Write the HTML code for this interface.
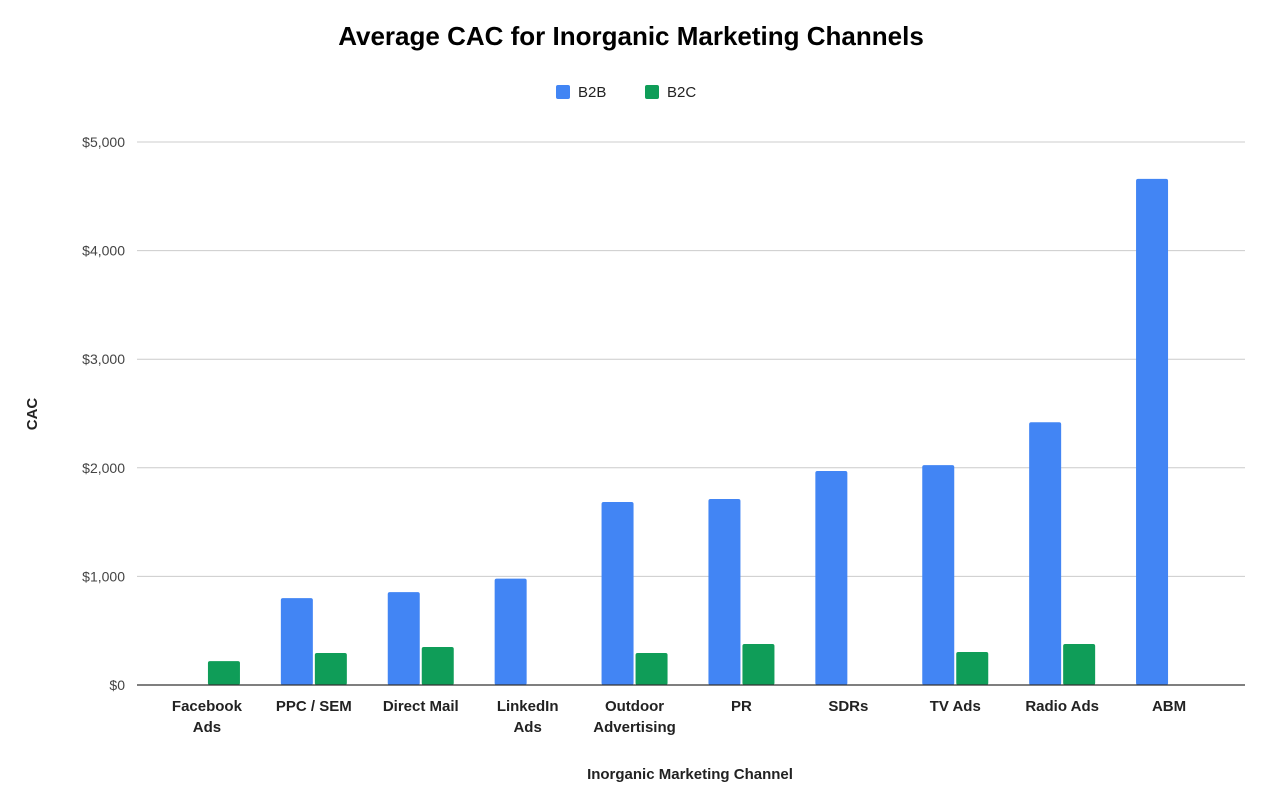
<!DOCTYPE html>
<html><head><meta charset="utf-8"><style>
body{margin:0;background:#fff;font-family:"Liberation Sans",Arial,sans-serif}
</style></head><body>
<svg id="chart" width="1270" height="801" xmlns="http://www.w3.org/2000/svg" font-family="Liberation Sans, Arial, sans-serif">
<rect width="1270" height="801" fill="#fff"/>
<text x="631" y="45" text-anchor="middle" font-size="26" font-weight="bold" fill="#000">Average CAC for Inorganic Marketing Channels</text>
<g>
<g><rect x="556" y="85" width="14" height="14" rx="2" fill="#4285f4"/><text x="578" y="97" font-size="15" fill="#222">B2B</text></g>
<g><rect x="645" y="85" width="14" height="14" rx="2" fill="#0f9d58"/><text x="667" y="97" font-size="15" fill="#222">B2C</text></g>
</g>
<g id="grid"></g><g id="bars"></g><g id="xlabels"></g>
<text transform="translate(37,414) rotate(-90)" text-anchor="middle" font-size="15" font-weight="bold" fill="#222">CAC</text>
<text x="690" y="779" text-anchor="middle" font-size="15" font-weight="bold" fill="#222">Inorganic Marketing Channel</text>
</svg>
<script>
const categories=[["Facebook","Ads"],["PPC / SEM"],["Direct Mail"],["LinkedIn","Ads"],["Outdoor","Advertising"],["PR"],["SDRs"],["TV Ads"],["Radio Ads"],["ABM"]];
const b2b=[0,800,855,980,1685,1713,1970,2025,2420,4660];
const b2c=[220,295,350,0,295,378,0,304,378,0];
const yTicks=[0,1000,2000,3000,4000,5000];
const yTickLabels=["$0","$1,000","$2,000","$3,000","$4,000","$5,000"];
const NS="http://www.w3.org/2000/svg";
const x0=137,x1=1245,y0=685,yTop=142,yMax=5000;
const bandStart=153.5,band=106.9,barW=32;
const y=v=>y0-(v/yMax)*(y0-yTop);
const cx=i=>bandStart+band*(i+0.5);
function mk(t,a,p){const e=document.createElementNS(NS,t);for(const k in a)e.setAttribute(k,a[k]);p.appendChild(e);return e;}
const grid=document.getElementById('grid');
yTicks.forEach((v,i)=>{
 if(v>0){const l=mk('line',{x1:x0,x2:x1,y1:y(v),y2:y(v),stroke:'#ccc','stroke-width':1},grid);
 
 }
 const t=mk('text',{x:125,y:y(v)+5,'text-anchor':'end','font-size':14,fill:'#444'},grid);
 t.textContent=yTickLabels[i];
 
 
});
const bars=document.getElementById('bars');
categories.forEach((c,i)=>{
 if(b2b[i]>0){const r=mk('rect',{x:cx(i)-barW-1,y:y(b2b[i]),width:barW,height:y0-y(b2b[i]),rx:2,fill:'#4285f4'},bars);
 
 }
 if(b2c[i]>0){const r=mk('rect',{x:cx(i)+1,y:y(b2c[i]),width:barW,height:y0-y(b2c[i]),rx:2,fill:'#0f9d58'},bars);
 
 }
});
const ax=mk('line',{x1:x0,x2:x1,y1:y0,y2:y0,stroke:'#333','stroke-width':1.3},bars);


const xl=document.getElementById('xlabels');
categories.forEach((c,i)=>{
 c.forEach((line,j)=>{const t=mk('text',{x:cx(i),y:711+j*21,'text-anchor':'middle','font-size':15,'font-weight':'bold',fill:'#222'},xl);
 t.textContent=line;
 
 });
});
</script>
</body></html>
